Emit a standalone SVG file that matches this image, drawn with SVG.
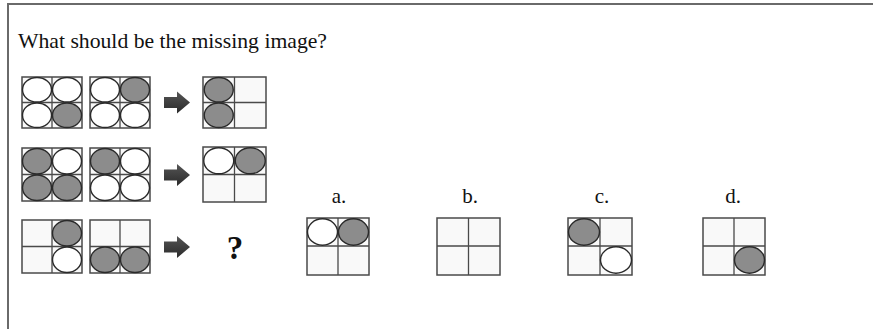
<svg xmlns="http://www.w3.org/2000/svg" width="873" height="329" viewBox="0 0 873 329">
<style>
.t{font-family:"Liberation Serif","Times New Roman",serif;fill:#111}
.tt{font-size:22px}
.lb{font-size:21px}
.qm{font-size:33px;font-weight:bold}
.g{fill:#f9f9f9;stroke:#4a4a4a;stroke-width:1.5}
.l{stroke:#4a4a4a;stroke-width:1.3}
.w{fill:#ffffff;stroke:#2a2a2a;stroke-width:1.4}
.k{fill:#8c8c8c;stroke:#2a2a2a;stroke-width:1.4}
.ar{fill:url(#ag)}
</style>
<defs>
<linearGradient id="ag" x1="0" y1="0" x2="0" y2="1">
<stop offset="0" stop-color="#555"/>
<stop offset="1" stop-color="#2a2a2a"/>
</linearGradient>
<path id="arrow" d="M0,-5.5 H13 V-11 L26,0 L13,11 V5.5 H0 Z"/>
</defs>
<rect x="0" y="0" width="873" height="329" fill="#fff"/>
<g id="frame" fill="none" stroke="#6a6a6a" stroke-width="2">
<path d="M8,329 V4 H873"/>
</g>
<text id="title" class="t tt" x="18" y="48" textLength="309" lengthAdjust="spacingAndGlyphs">What should be the missing image?</text>

<!-- Row 1 -->
<g id="r1a">
<rect class="g" x="22" y="77" width="60" height="51"/>
<path class="l" d="M52,77V128M22,102.5H82"/>
<ellipse class="w" cx="37" cy="89.75" rx="14.5" ry="12.3"/>
<ellipse class="w" cx="67" cy="89.75" rx="14.5" ry="12.3"/>
<ellipse class="w" cx="37" cy="115.25" rx="14.5" ry="12.3"/>
<ellipse class="k" cx="67" cy="115.25" rx="14.5" ry="12.3"/>
</g>
<g id="r1b">
<rect class="g" x="90" y="77" width="60" height="51"/>
<path class="l" d="M120,77V128M90,102.5H150"/>
<ellipse class="w" cx="105" cy="89.75" rx="14.5" ry="12.3"/>
<ellipse class="k" cx="135" cy="89.75" rx="14.5" ry="12.3"/>
<ellipse class="w" cx="105" cy="115.25" rx="14.5" ry="12.3"/>
<ellipse class="w" cx="135" cy="115.25" rx="14.5" ry="12.3"/>
</g>
<g id="r1r">
<rect class="g" x="203" y="77" width="63" height="51"/>
<path class="l" d="M234.5,77V128M203,102.5H266"/>
<ellipse class="k" cx="218.75" cy="89.75" rx="14.5" ry="12.3"/>
<ellipse class="k" cx="218.75" cy="115.25" rx="14.5" ry="12.3"/>
</g>

<!-- Row 2 -->
<g id="r2a">
<rect class="g" x="22" y="148" width="60" height="53"/>
<path class="l" d="M52,148V201M22,174.5H82"/>
<ellipse class="k" cx="37" cy="161.25" rx="14.5" ry="12.8"/>
<ellipse class="w" cx="67" cy="161.25" rx="14.5" ry="12.8"/>
<ellipse class="k" cx="37" cy="187.75" rx="14.5" ry="12.8"/>
<ellipse class="k" cx="67" cy="187.75" rx="14.5" ry="12.8"/>
</g>
<g id="r2b">
<rect class="g" x="90" y="148" width="60" height="53"/>
<path class="l" d="M120,148V201M90,174.5H150"/>
<ellipse class="k" cx="105" cy="161.25" rx="14.5" ry="12.8"/>
<ellipse class="w" cx="135" cy="161.25" rx="14.5" ry="12.8"/>
<ellipse class="w" cx="105" cy="187.75" rx="14.5" ry="12.8"/>
<ellipse class="w" cx="135" cy="187.75" rx="14.5" ry="12.8"/>
</g>
<g id="r2r">
<rect class="g" x="203" y="147" width="63" height="55"/>
<path class="l" d="M234.5,147V202M203,174.5H266"/>
<ellipse class="w" cx="218.75" cy="160.75" rx="15" ry="13"/>
<ellipse class="k" cx="250.25" cy="160.75" rx="15" ry="13"/>
</g>

<!-- Row 3 -->
<g id="r3a">
<rect class="g" x="22" y="220" width="60" height="53"/>
<path class="l" d="M52,220V273M22,246.5H82"/>
<ellipse class="k" cx="67" cy="233.25" rx="14.5" ry="12.8"/>
<ellipse class="w" cx="67" cy="259.75" rx="14.5" ry="12.8"/>
</g>
<g id="r3b">
<rect class="g" x="90" y="220" width="60" height="53"/>
<path class="l" d="M120,220V273M90,246.5H150"/>
<ellipse class="k" cx="105" cy="259.75" rx="14.5" ry="12.8"/>
<ellipse class="k" cx="135" cy="259.75" rx="14.5" ry="12.8"/>
</g>
<text id="q" class="t qm" x="235" y="259" text-anchor="middle">?</text>

<g id="connectors">
<use href="#arrow" class="ar" x="164" y="102.5"/>
<use href="#arrow" class="ar" x="164" y="175"/>
<use href="#arrow" class="ar" x="164" y="247"/>
</g>

<!-- Options -->
<g id="optA">
<text class="t lb" x="339" y="203" text-anchor="middle">a.</text>
<rect class="g" x="307" y="218" width="62" height="57"/>
<path class="l" d="M338,218V275M307,246H369"/>
<ellipse class="w" cx="322.5" cy="232" rx="15" ry="13.2"/>
<ellipse class="k" cx="353.5" cy="232" rx="15" ry="13.2"/>
</g>
<g id="optB">
<text class="t lb" x="470" y="203" text-anchor="middle">b.</text>
<rect class="g" x="437" y="218" width="63" height="57"/>
<path class="l" d="M468.5,218V275M437,246H500"/>
</g>
<g id="optC">
<text class="t lb" x="602" y="203" text-anchor="middle">c.</text>
<rect class="g" x="568" y="218" width="64" height="57"/>
<path class="l" d="M600,218V275M568,246H632"/>
<ellipse class="k" cx="584" cy="232" rx="15.5" ry="13.2"/>
<ellipse class="w" cx="616" cy="260" rx="15.5" ry="13.2"/>
</g>
<g id="optD">
<text class="t lb" x="733" y="203" text-anchor="middle">d.</text>
<rect class="g" x="703" y="218" width="62" height="57"/>
<path class="l" d="M734,218V275M703,246H765"/>
<ellipse class="k" cx="749.5" cy="260" rx="15" ry="13.2"/>
</g>
</svg>
